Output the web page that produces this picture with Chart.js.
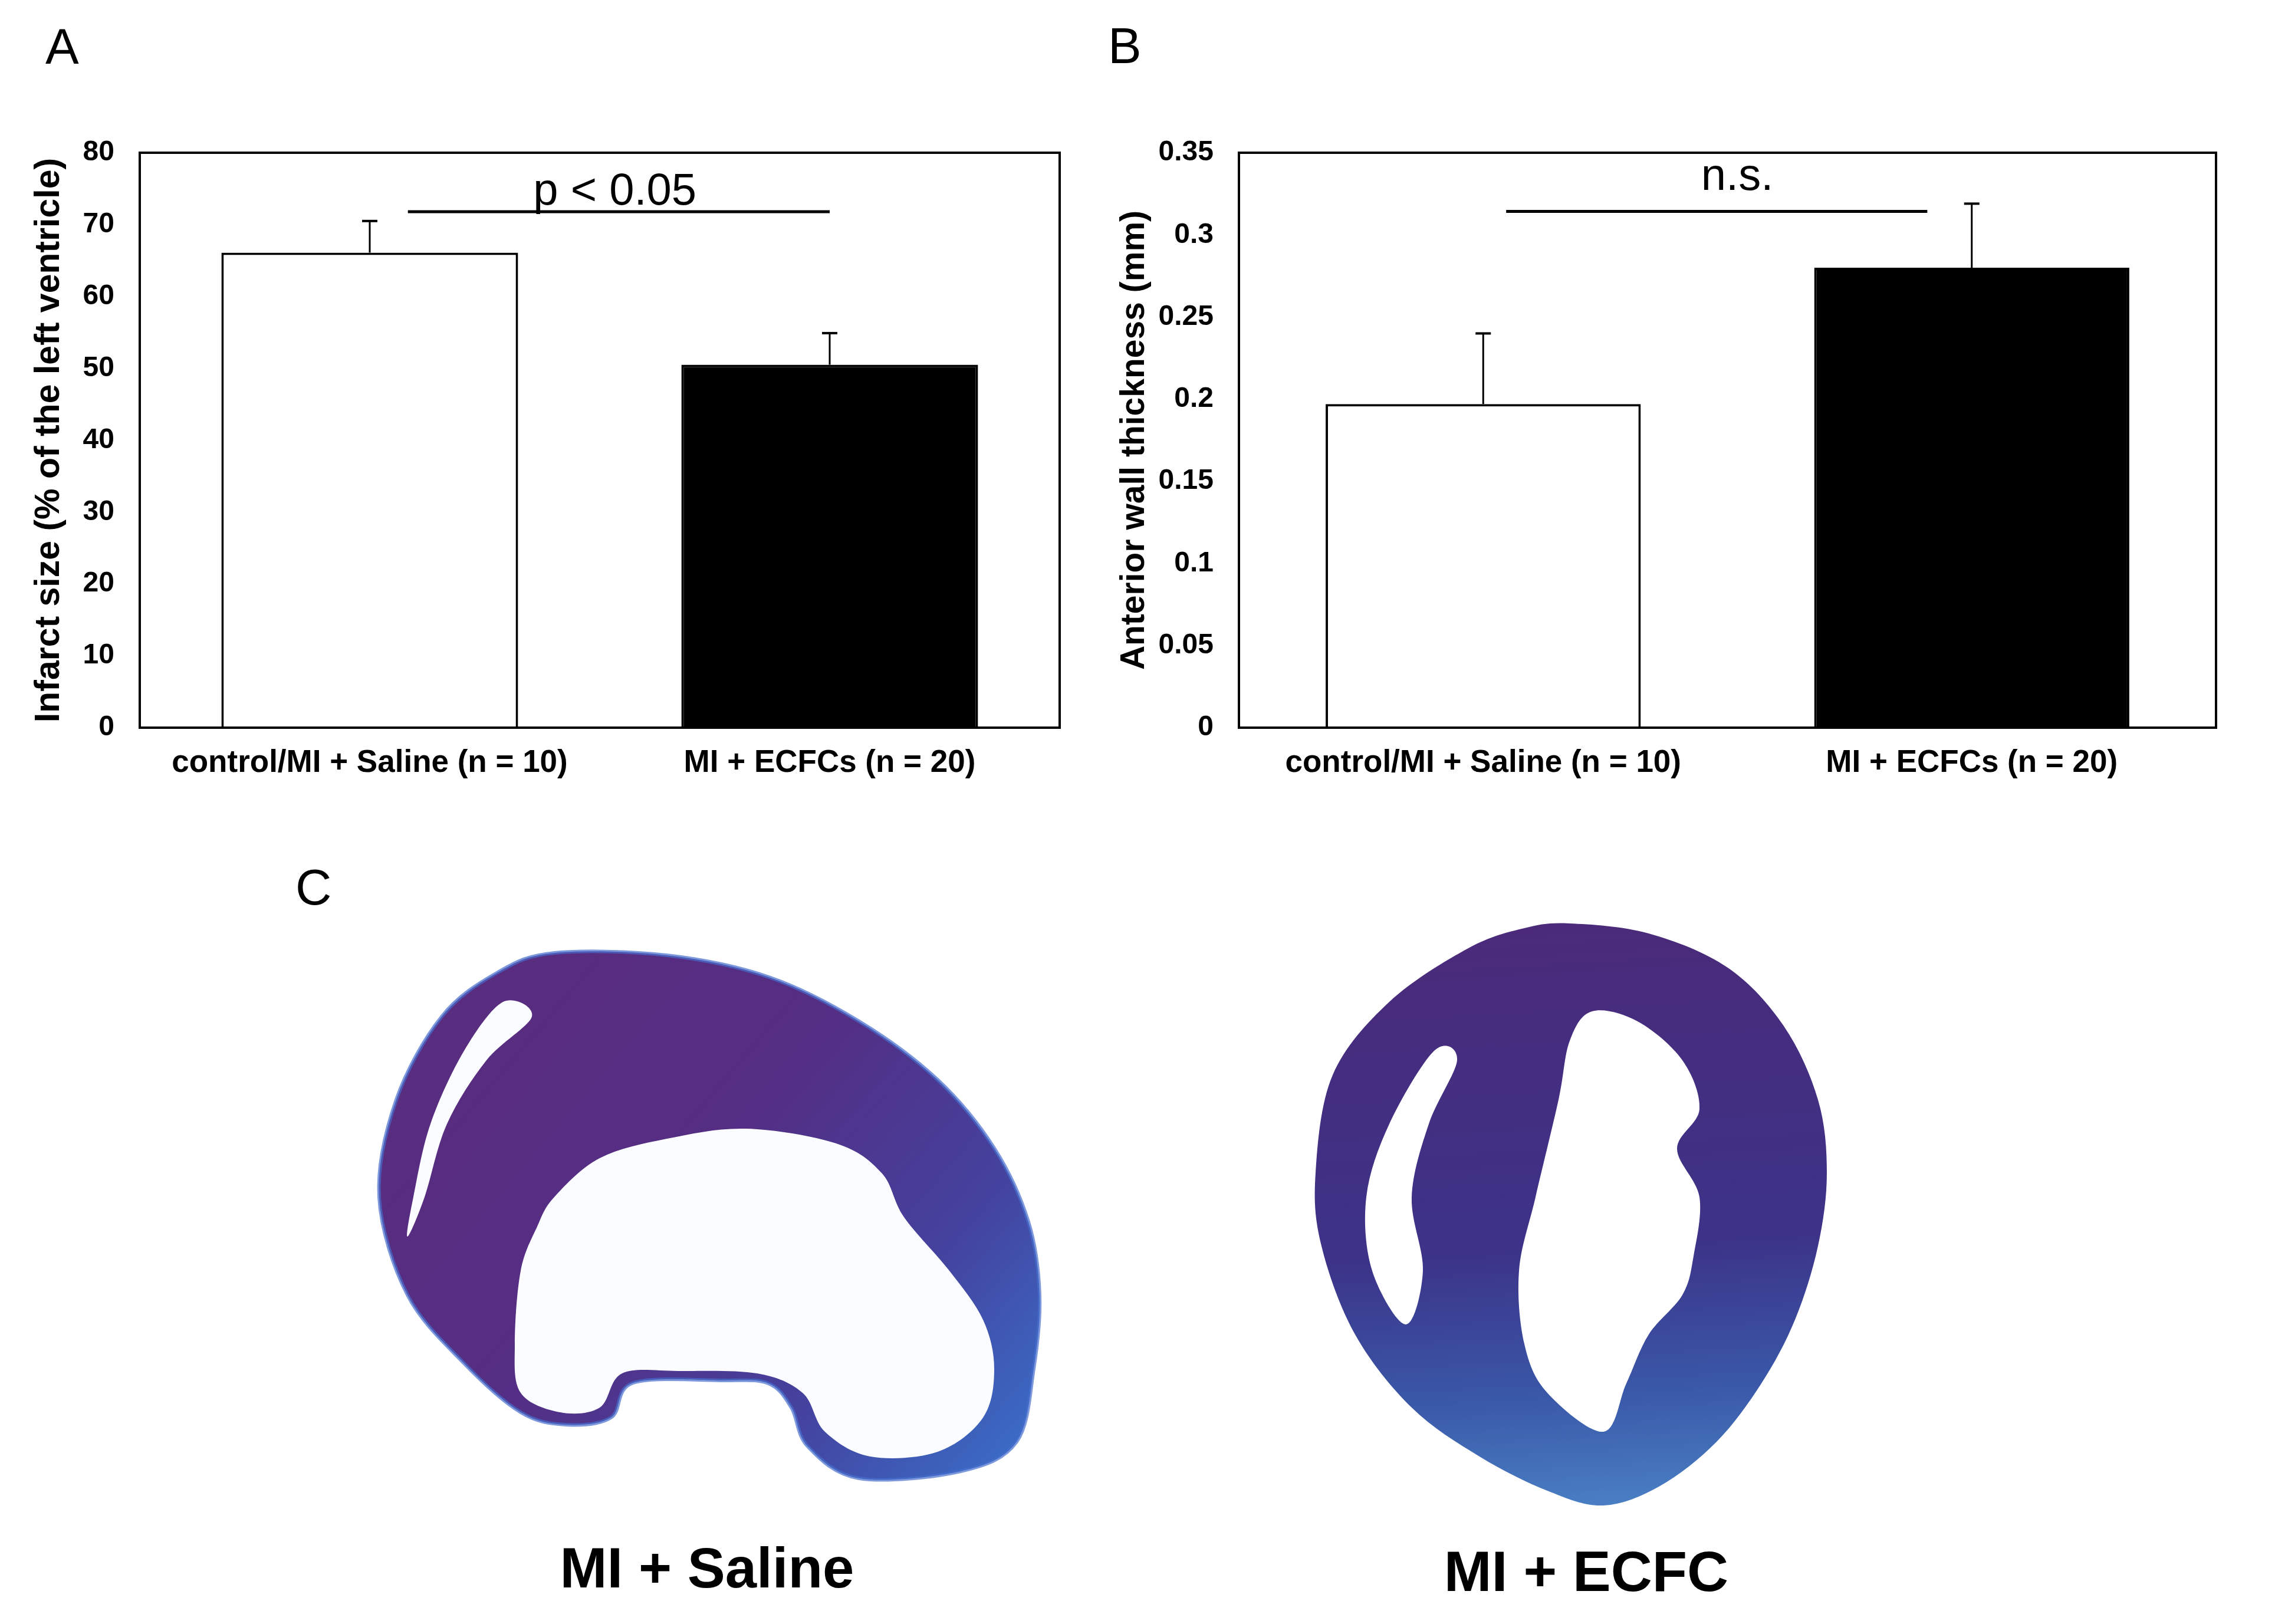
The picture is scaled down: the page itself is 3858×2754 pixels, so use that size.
<!DOCTYPE html>
<html>
<head>
<meta charset="utf-8">
<title>Infarct size and wall thickness</title>
<script src="https://cdn.jsdelivr.net/npm/chart.js@4.4.1/dist/chart.umd.min.js"></script>
<style>
  body { margin: 0; background: #fff; }
  #page { position: relative; width: 3858px; height: 2754px; overflow: hidden; background: #fff;
          font-family: "Liberation Sans", Arial, sans-serif; color: #000; }
  canvas { position: absolute; }
  .tag { position: absolute; font-size: 85px; line-height: 1; font-weight: normal; }
  .caption { position: absolute; width: 1000px; text-align: center; font-weight: bold; line-height: 1; }
</style>
</head>
<body>
<div id="page">
  <canvas id="histo" width="3858" height="1354" style="left:0;top:1400px;width:3858px;height:1354px"></canvas>
  <canvas id="chartA" width="1860" height="1400" style="left:0;top:0;width:1860px;height:1400px"></canvas>
  <canvas id="chartB" width="1998" height="1400" style="left:1860px;top:0;width:1998px;height:1400px"></canvas>

  <div class="tag" style="left:77px;top:36px">A</div>
  <div class="tag" style="left:1879px;top:35px">B</div>
  <div class="tag" style="left:501px;top:1462px">C</div>
  <div class="caption" style="left:699px;top:2611px;font-size:96px">MI + Saline</div>
  <div class="caption" style="left:2190px;top:2616px;font-size:97px">MI + ECFC</div>
</div>

<script>
// --- data ---
const groups = ["control/MI + Saline (n = 10)", "MI + ECFCs (n = 20)"];
const barColors = ["#ffffff", "#000000"];

const infarctMean = [66.1, 50.5];
const infarctErr = [4.4, 4.4];
const infarctTicks = [0, 10, 20, 30, 40, 50, 60, 70, 80];
const infarctSigSpan = [0.083, 1.0];   // in group-index units
const infarctSigLevel = 71.8;

const wallMean = [0.197, 0.28];
const wallErr = [0.043, 0.039];
const wallTicks = [0, 0.05, 0.1, 0.15, 0.2, 0.25, 0.3, 0.35];
const wallSigSpan = [0.047, 0.909];
const wallSigLevel = 0.3143;

Chart.defaults.font.family = '"Liberation Sans", Arial, sans-serif';
Chart.defaults.color = "#000";

// box round the plot area
const framePlugin = {
  id: "frame",
  afterDraw(chart) {
    const { ctx, chartArea: a } = chart;
    ctx.save();
    ctx.strokeStyle = "#000";
    ctx.lineWidth = 4;
    ctx.strokeRect(a.left, a.top, a.right - a.left, a.bottom - a.top);
    ctx.restore();
  }
};

// upper error bars on the bar dataset
const errorBarPlugin = {
  id: "errorBars",
  afterDatasetsDraw(chart) {
    const ds = chart.data.datasets[0];
    const meta = chart.getDatasetMeta(0);
    const y = chart.scales.y;
    const ctx = chart.ctx;
    ctx.save();
    ctx.strokeStyle = "#000";
    meta.data.forEach((bar, i) => {
      const top = y.getPixelForValue(ds.data[i].y + ds.errors[i]);
      ctx.lineWidth = 3;
      ctx.beginPath();
      ctx.moveTo(bar.x, bar.y);
      ctx.lineTo(bar.x, top);
      ctx.stroke();
      ctx.lineWidth = 4;
      ctx.beginPath();
      ctx.moveTo(bar.x - 13, top);
      ctx.lineTo(bar.x + 13, top);
      ctx.stroke();
    });
    ctx.restore();
  }
};

// text above the significance line
const sigLabelPlugin = {
  id: "sigLabel",
  afterDraw(chart, args, opts) {
    const ctx = chart.ctx;
    const x = chart.scales.x.getPixelForValue(opts.at);
    const y = chart.scales.y.getPixelForValue(opts.level) - opts.lift;
    ctx.save();
    ctx.font = '76px "Liberation Sans", Arial, sans-serif';
    ctx.fillStyle = "#000";
    ctx.textAlign = "center";
    ctx.textBaseline = "alphabetic";
    ctx.fillText(opts.text, x, y);
    ctx.restore();
  }
};

function makeChart(canvasId, cfg) {
  return new Chart(document.getElementById(canvasId), {
    type: "bar",
    data: {
      datasets: [
        {
          data: groups.map((g, i) => ({ x: i, y: cfg.mean[i] })),
          errors: cfg.err,
          backgroundColor: barColors,
          borderColor: "#000",
          borderWidth: 4,
          barPercentage: 0.645,
          categoryPercentage: 1
        },
        {
          type: "line",
          data: cfg.sigSpan.map(v => ({ x: v, y: cfg.sigLevel })),
          borderColor: "#000",
          borderWidth: 5,
          pointRadius: 0
        }
      ]
    },
    options: {
      responsive: false,
      animation: false,
      devicePixelRatio: 1,
      layout: { padding: { top: 259, right: cfg.padRight, bottom: 0, left: 0 } },
      plugins: {
        legend: { display: false },
        tooltip: { enabled: false },
        sigLabel: { text: cfg.sigText, at: cfg.sigAt, level: cfg.sigLevel, lift: cfg.sigLift }
      },
      scales: {
        x: {
          type: "linear",
          min: -0.5,
          max: 1.5,
          offset: false,
          grid: { display: false, drawTicks: false },
          border: { display: false },
          afterBuildTicks: s => { s.ticks = groups.map((g, i) => ({ value: i })); },
          ticks: {
            font: { size: 53, weight: "bold" }, padding: 29, maxRotation: 0, autoSkip: false,
            callback: v => groups[v]
          },
          afterFit: s => { s.height = 166; }
        },
        y: {
          min: 0,
          max: cfg.ticks[cfg.ticks.length - 1],
          grid: { display: false, drawTicks: false },
          border: { display: false },
          afterBuildTicks: s => { s.ticks = cfg.ticks.map(v => ({ value: v })); },
          ticks: { font: { size: 48, weight: "bold" }, padding: 43, callback: v => String(v) },
          title: {
            display: true,
            text: cfg.title,
            font: { size: cfg.titleSize, weight: "bold" },
            padding: { top: cfg.titlePad, bottom: 0 }
          },
          afterFit: s => { s.width = cfg.axisWidth; }
        }
      }
    },
    plugins: [errorBarPlugin, framePlugin, sigLabelPlugin]
  });
}

makeChart("chartA", {
  mean: infarctMean, err: infarctErr, ticks: infarctTicks,
  sigSpan: infarctSigSpan, sigLevel: infarctSigLevel, sigText: "p < 0.05", sigAt: 0.533, sigLift: 12,
  title: "Infarct size (% of the left ventricle)", titleSize: 59, titlePad: 48,
  axisWidth: 237, padRight: 63
});

makeChart("chartB", {
  mean: wallMean, err: wallErr, ticks: wallTicks,
  sigSpan: wallSigSpan, sigLevel: wallSigLevel, sigText: "n.s.", sigAt: 0.52, sigLift: 36,
  title: "Anterior wall thickness (mm)", titleSize: 57, titlePad: 30,
  axisWidth: 241, padRight: 100
});

// --- panel C: rough sketch of the two stained heart sections (not chart data) ---
const hc = document.getElementById("histo").getContext("2d");
hc.translate(0, -1400);

function smooth(ctx, pts) {
  const n = pts.length;
  ctx.beginPath();
  ctx.moveTo(pts[0][0], pts[0][1]);
  for (let i = 0; i < n; i++) {
    const p0 = pts[(i - 1 + n) % n], p1 = pts[i], p2 = pts[(i + 1) % n], p3 = pts[(i + 2) % n];
    ctx.bezierCurveTo(p1[0] + (p2[0] - p0[0]) / 6, p1[1] + (p2[1] - p0[1]) / 6,
                      p2[0] - (p3[0] - p1[0]) / 6, p2[1] - (p3[1] - p1[1]) / 6, p2[0], p2[1]);
  }
  ctx.closePath();
}

const salineOuter = [[940,1616],[1131,1620],[1304,1657],[1457,1732],[1590,1831],[1686,1947],[1744,2072],
  [1763,2196],[1753,2321],[1724,2445],[1629,2495],[1457,2507],[1370,2453],[1342,2387],[1303,2346],
  [1227,2341],[1074,2345],[1036,2404],[959,2416],[883,2395],[787,2312],[691,2196],[643,2030],[672,1865],
  [749,1724],[844,1649]];
const salineCavity = [[940,2030],[1017,1964],[1131,1931],[1265,1914],[1418,1939],[1495,1989],[1533,2064],
  [1610,2155],[1667,2238],[1686,2321],[1667,2404],[1590,2462],[1476,2470],[1399,2428],[1361,2362],
  [1284,2329],[1150,2325],[1055,2329],[1017,2387],[950,2395],[883,2362],[873,2279],[883,2155],[911,2080]];
const salineGap = [[853,1699],[787,1782],[730,1906],[701,2030],[691,2097],[720,2030],[758,1906],[825,1798],[902,1724]];

const ecfcOuter = [[2662,1566],[2796,1583],[2930,1641],[3025,1740],[3083,1865],[3098,1989],[3083,2113],
  [3044,2238],[2987,2346],[2911,2445],[2815,2520],[2719,2553],[2624,2528],[2509,2470],[2394,2387],
  [2298,2263],[2241,2113],[2231,1989],[2260,1823],[2356,1699],[2490,1608],[2585,1574]];
const ecfcCavity = [[2700,1715],[2777,1732],[2853,1798],[2882,1881],[2844,1948],[2882,2030],[2872,2130],
  [2853,2196],[2796,2263],[2758,2346],[2719,2428],[2624,2362],[2585,2279],[2576,2155],[2604,2030],
  [2643,1865],[2662,1765]];
const ecfcGap = [[2432,1782],[2356,1906],[2317,2030],[2327,2155],[2384,2246],[2413,2155],[2394,2030],[2423,1906],[2471,1798]];

// left section
let g = hc.createLinearGradient(700, 1650, 1700, 2500);
g.addColorStop(0, "#5a2c7e");
g.addColorStop(0.45, "#542e84");
g.addColorStop(0.75, "#44429e");
g.addColorStop(1, "#3a6cc6");
hc.fillStyle = g;
smooth(hc, salineOuter);
hc.fill();
hc.strokeStyle = "rgba(70,110,205,0.7)";
hc.lineWidth = 6;
hc.stroke();
hc.fillStyle = "#fbfcff";
smooth(hc, salineCavity);
hc.fill();
smooth(hc, salineGap);
hc.fill();

// right section
g = hc.createLinearGradient(2660, 1570, 2720, 2560);
g.addColorStop(0, "#4b2a7a");
g.addColorStop(0.55, "#3c3388");
g.addColorStop(0.8, "#3a58a8");
g.addColorStop(1, "#4a80c4");
hc.fillStyle = g;
smooth(hc, ecfcOuter);
hc.fill();
hc.fillStyle = "#ffffff";
smooth(hc, ecfcCavity);
hc.fill();
smooth(hc, ecfcGap);
hc.fill();
</script>
</body>
</html>
